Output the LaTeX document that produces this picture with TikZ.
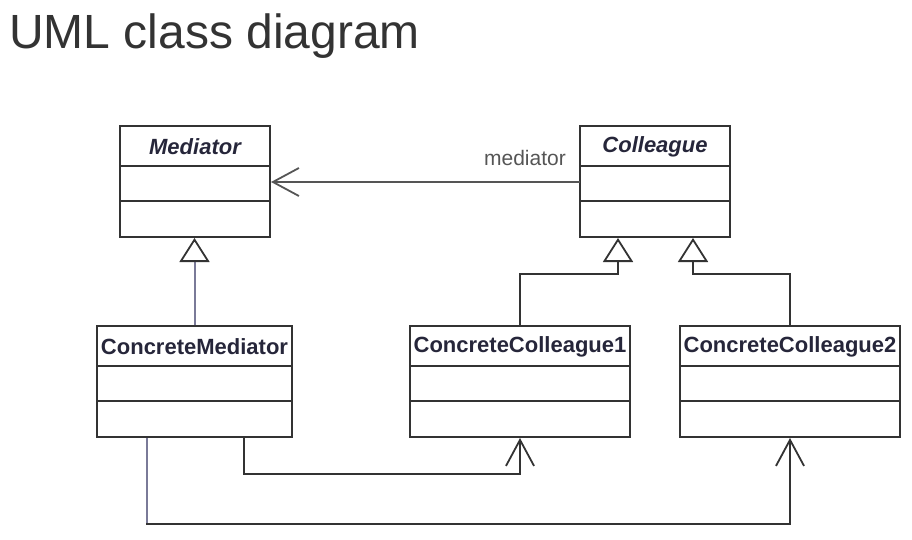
\documentclass[tikz,border=0pt]{standalone}
\usepackage{fontspec}
\setmainfont{Liberation Sans}
\usetikzlibrary{arrows.meta,calc}
\definecolor{boxline}{HTML}{333333}
\definecolor{lav}{HTML}{7A7A98}
\definecolor{assoc}{HTML}{555555}
\definecolor{txt}{HTML}{26263A}
\tikzset{
  classbox/.style={draw=boxline,line width=2pt,rectangle,minimum height=111pt,inner sep=0pt},
  divider/.style={draw=boxline,line width=2pt},
  cname/.style={font=\fontsize{22}{24}\selectfont\bfseries,text=txt,inner sep=0pt},
  aname/.style={font=\fontsize{22}{24}\selectfont\bfseries\itshape,text=txt,inner sep=0pt},
  gentip/.style={-{Triangle[open,length=24pt,width=30pt,fill=white,line width=1.8pt,color=boxline]}},
  gen/.style={line width=2pt,gentip},
  dep/.style={line width=2pt,-{Straight Barb[length=26pt,width=28pt,line width=1.8pt]}},
}
\begin{document}
\begin{tikzpicture}[x=1pt,y=-1pt]
\useasboundingbox (0,0) rectangle (912,540);
\node[anchor=base west,inner sep=0pt,text=boxline,font=\fontsize{48}{52}\selectfont] (title) at (9,49) {UML class diagram};

% class boxes
\node[classbox,minimum width=150pt] (med) at (195,181.5) {};
\node[classbox,minimum width=150pt] (col) at (655,181.5) {};
\node[classbox,minimum width=195pt] (cm) at (194.5,381.5) {};
\node[classbox,minimum width=220pt] (cc1) at (520,381.5) {};
\node[classbox,minimum width=220pt] (cc2) at (790,381.5) {};

\foreach \b in {med,col,cm,cc1,cc2}{
  \draw[divider] ($(\b.north west)+(0,41)$) -- ($(\b.north east)+(0,41)$);
  \draw[divider] ($(\b.north west)+(0,76)$) -- ($(\b.north east)+(0,76)$);
}

\node[aname] (medt) at ($(med.north)+(0,22)$) {Mediator};
\node[aname] (colt) at ($(col.north)+(0,22)$) {Colleague};
\node[cname] (cmt) at ($(cm.north)+(0,22)$) {ConcreteMediator};
\node[cname] (cc1t) at ($(cc1.north)+(0,22)$) {ConcreteColleague1};
\node[cname] (cc2t) at ($(cc2.north)+(0,22)$) {ConcreteColleague2};

% association
\coordinate (a1) at (580,182);
\draw[dep,draw=assoc] (a1) -- (a1 -| med.east);
\node[anchor=east,inner sep=0pt,text=assoc,font=\fontsize{21}{24}\selectfont] (lbl) at (566,158) {mediator};

% generalizations
\draw[gen,draw=lav] (cm.north) -- (cm.north |- med.south);
\coordinate (j1) at (618,274);
\coordinate (j2) at (693,274);
\draw[gen,draw=boxline] (cc1.north) |- (j1) -- (j1 |- col.south);
\draw[gen,draw=boxline] (cc2.north) |- (j2) -- (j2 |- col.south);

% dependencies
\coordinate (k1) at (244,474);
\coordinate (k2) at (147,524);
\draw[dep,draw=boxline] (k1 |- cm.south) -- (k1) -| (cc1.south);
\draw[line width=2pt,draw=lav] (k2 |- cm.south) -- (k2);
\draw[dep,draw=boxline] ([xshift=-1pt]k2) -| (cc2.south);
\end{tikzpicture}
\end{document}
